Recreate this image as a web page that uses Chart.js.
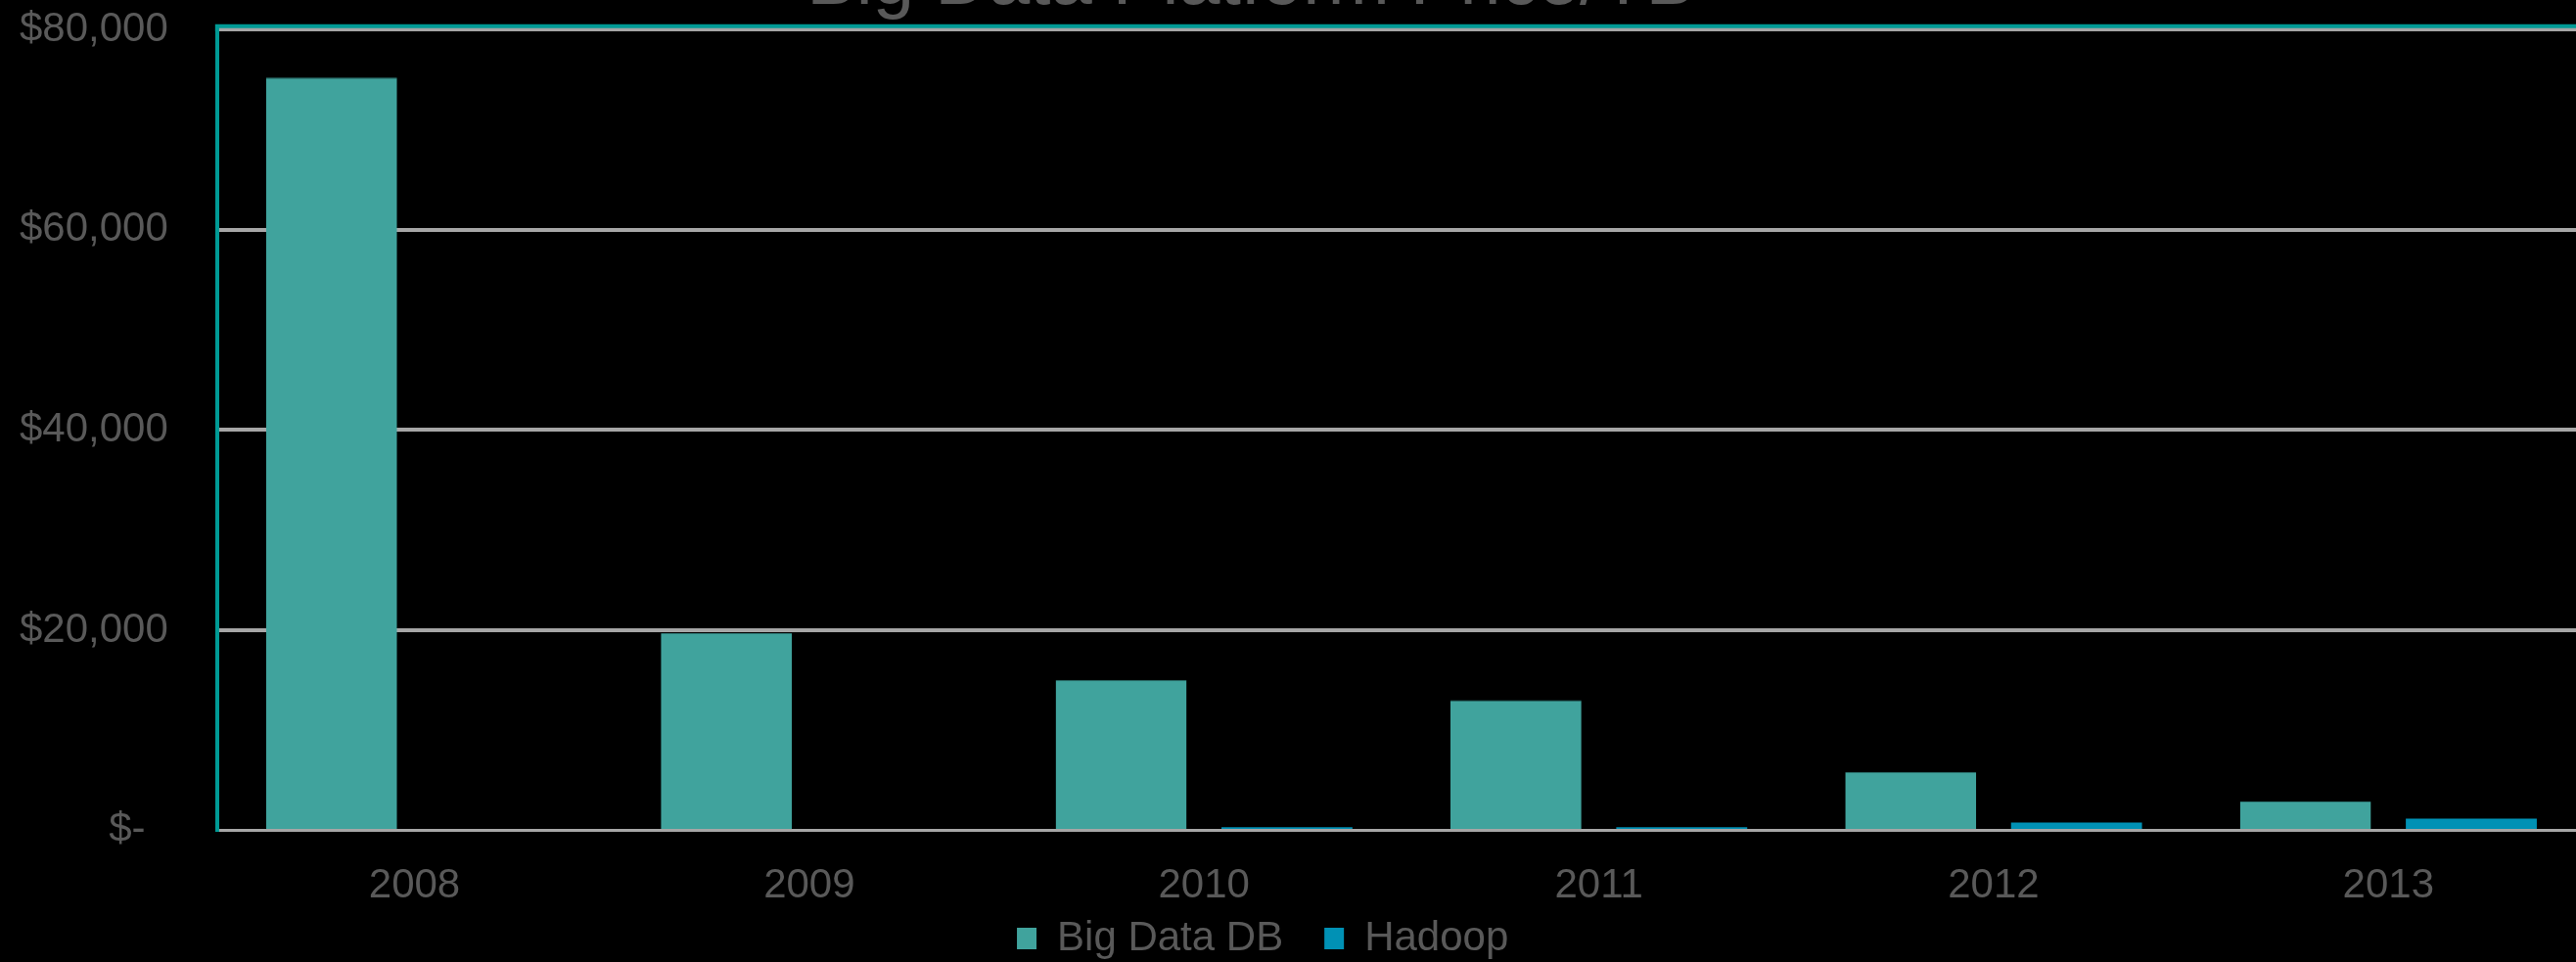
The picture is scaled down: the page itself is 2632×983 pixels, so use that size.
<!DOCTYPE html>
<html>
<head>
<meta charset="utf-8">
<title>Big Data Platform Price/TB</title>
<script src="https://cdn.jsdelivr.net/npm/chart.js@4.4.1/dist/chart.umd.min.js"></script>
<style>
  html, body { margin: 0; padding: 0; background: #000; overflow: hidden; width: 2632px; height: 983px; }
  /* chart is a bit bigger than the window: title sits above the top edge, last category runs off the right */
  #wrap { position: absolute; left: 0; top: -63px; width: 2642px; height: 1053px; }
</style>
</head>
<body>
<div id="wrap"><canvas id="priceChart"></canvas></div>
<script>
const years = ['2008', '2009', '2010', '2011', '2012', '2013'];
const bigDataDb = [75200, 19700, 15050, 13000, 5850, 2900];
const hadoop = [0, 0, 330, 330, 800, 1180];
const yTicks = [0, 20000, 40000, 60000, 80000];
const seriesNames = ['Big Data DB', 'Hadoop'];
const chartTitle = 'Big Data Platform Price/TB';

const textGray = '#595959';
const gridGray = '#a6a6a6';
const frameTeal = '#009a95';

Chart.defaults.font.family = '"Liberation Sans", Arial, sans-serif';
Chart.defaults.color = textGray;

function dollars(v) {
    if (v === 0) return '$-  ';
    return '$' + v.toLocaleString('en-US');
}

// teal frame along the top of the plot area
const plotFrame = {
    id: 'plotFrame',
    afterDraw(chart) {
        const { ctx, chartArea } = chart;
        ctx.save();
        ctx.strokeStyle = frameTeal;
        ctx.lineWidth = 4;
        ctx.beginPath();
        ctx.moveTo(chartArea.left, chartArea.top + 2);
        ctx.lineTo(chartArea.left, chartArea.top - 3.5);
        ctx.lineTo(chartArea.right + 2, chartArea.top - 3.5);
        ctx.stroke();
        ctx.restore();
    }
};

const graph = document.getElementById('priceChart').getContext('2d');

new Chart(graph, {
    type: 'bar',
    data: {
        labels: years,
        datasets: [{
            label: seriesNames[0],
            data: bigDataDb,
            backgroundColor: '#40a39d',
            borderColor: '#2f7c78',
            borderWidth: { top: 1, left: 0, right: 0, bottom: 0 },
            borderSkipped: false,
            categoryPercentage: 0.84,
            barPercentage: 0.79
        }, {
            label: seriesNames[1],
            data: hadoop,
            backgroundColor: '#0091b5',
            categoryPercentage: 0.84,
            barPercentage: 0.79
        }]
    },
    options: {
        responsive: true,
        maintainAspectRatio: false,
        animation: false,
        layout: { padding: { left: 20, right: 0, top: 0, bottom: 0 } },
        plugins: {
            title: {
                display: true,
                text: chartTitle + '     ',
                color: textGray,
                font: { size: 76, weight: 'normal' },
                padding: { top: 0, bottom: 2 }
            },
            legend: {
                position: 'bottom',
                labels: {
                    color: textGray,
                    font: { size: 42 },
                    boxWidth: 20,
                    boxHeight: 22,
                    padding: 7,
                    generateLabels(chart) {
                        const items = Chart.defaults.plugins.legend.labels.generateLabels(chart);
                        items[0].text += '   ';
                        items[1].text += '       ';
                        items.forEach(it => { it.lineWidth = 0; });
                        return items;
                    }
                }
            },
            tooltip: { enabled: false }
        },
        scales: {
            x: {
                grid: {
                    display: true,
                    drawOnChartArea: false,
                    drawTicks: true,
                    tickLength: 32,
                    tickColor: 'transparent'
                },
                border: { display: false },
                ticks: {
                    color: textGray,
                    font: { size: 42 },
                    padding: 0
                }
            },
            y: {
                min: 0,
                max: 80000,
                afterBuildTicks(scale) {
                    scale.ticks = yTicks.map(v => ({ value: v }));
                },
                grid: {
                    color: gridGray,
                    lineWidth: c => (c.tick && c.tick.value === 0 ? 3 : 4),
                    drawTicks: true,
                    tickLength: 50,
                    tickColor: 'transparent'
                },
                border: { display: true, color: frameTeal, width: 4 },
                ticks: {
                    color: textGray,
                    font: { size: 42 },
                    padding: 0,
                    callback: value => dollars(value)
                }
            }
        }
    },
    plugins: [plotFrame]
});
</script>
</body>
</html>
